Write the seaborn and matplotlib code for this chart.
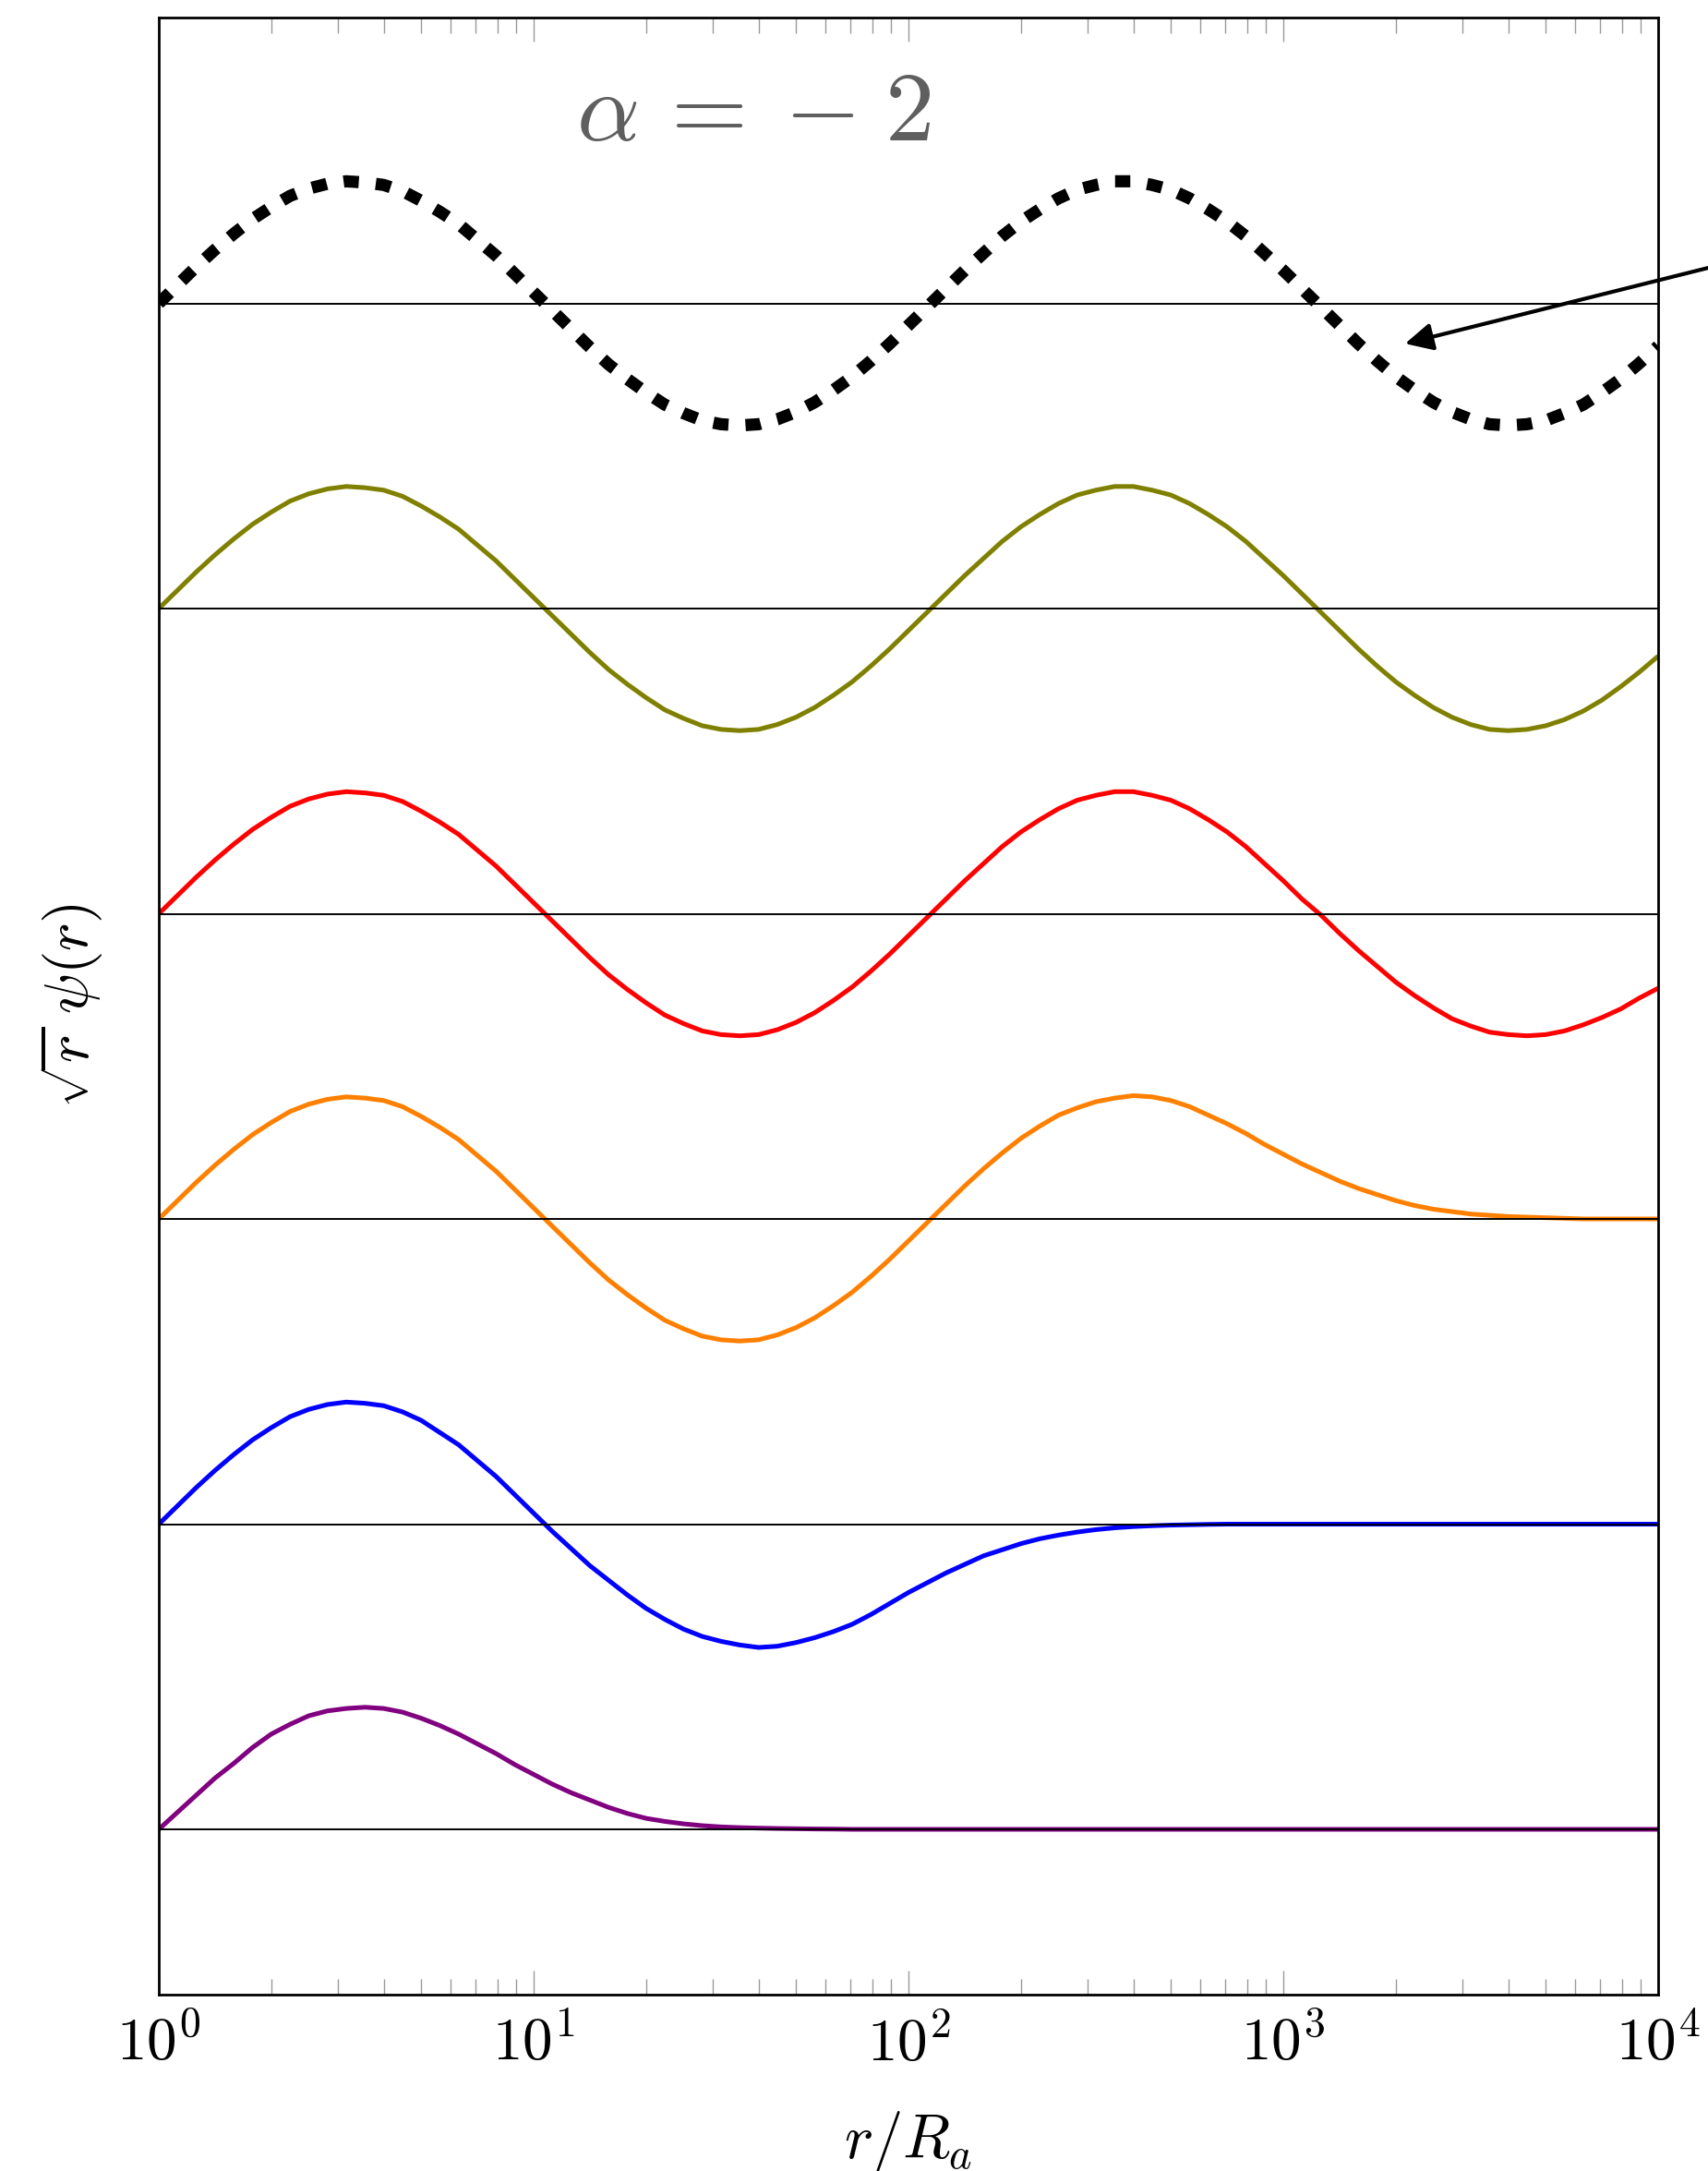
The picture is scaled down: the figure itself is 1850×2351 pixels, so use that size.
import numpy as np
import pandas as pd
import matplotlib
matplotlib.use("Agg")
import matplotlib.pyplot as plt
import seaborn as sns

# ---------------- data ----------------
log_r = [0.00, 0.05, 0.10, 0.15, 0.20, 0.25, 0.30, 0.35, 0.40, 0.45,
         0.50, 0.55, 0.60, 0.65, 0.70, 0.75, 0.80, 0.85, 0.90, 0.95,
         1.00, 1.05, 1.10, 1.15, 1.20, 1.25, 1.30, 1.35, 1.40, 1.45,
         1.50, 1.55, 1.60, 1.65, 1.70, 1.75, 1.80, 1.85, 1.90, 1.95,
         2.00, 2.05, 2.10, 2.15, 2.20, 2.25, 2.30, 2.35, 2.40, 2.45,
         2.50, 2.55, 2.60, 2.65, 2.70, 2.75, 2.80, 2.85, 2.90, 2.95,
         3.00, 3.05, 3.10, 3.15, 3.20, 3.25, 3.30, 3.35, 3.40, 3.45,
         3.50, 3.55, 3.60, 3.65, 3.70, 3.75, 3.80, 3.85, 3.90, 3.95,
         4.00]

psi_black = [0.00, 0.15, 0.30, 0.44, 0.57, 0.69, 0.79, 0.88, 0.94, 0.98,
             1.00, 0.99, 0.97, 0.92, 0.84, 0.75, 0.65, 0.52, 0.39, 0.24,
             0.09, -0.06, -0.21, -0.36, -0.50, -0.62, -0.73, -0.83, -0.90, -0.96,
             -0.99, -1.00, -0.99, -0.95, -0.89, -0.81, -0.71, -0.60, -0.47, -0.33,
             -0.18, -0.03, 0.12, 0.27, 0.41, 0.55, 0.67, 0.77, 0.86, 0.93,
             0.97, 1.00, 1.00, 0.97, 0.93, 0.86, 0.77, 0.67, 0.55, 0.41,
             0.27, 0.12, -0.03, -0.18, -0.33, -0.47, -0.60, -0.71, -0.81, -0.89,
             -0.95, -0.99, -1.00, -0.99, -0.96, -0.90, -0.83, -0.73, -0.62, -0.49,
             -0.35]

psi_olive = [0.00, 0.15, 0.30, 0.44, 0.57, 0.69, 0.79, 0.88, 0.94, 0.98,
             1.00, 0.99, 0.97, 0.92, 0.84, 0.75, 0.65, 0.52, 0.39, 0.24,
             0.09, -0.06, -0.21, -0.36, -0.50, -0.62, -0.73, -0.83, -0.90, -0.96,
             -0.99, -1.00, -0.99, -0.95, -0.89, -0.81, -0.71, -0.60, -0.47, -0.33,
             -0.18, -0.03, 0.12, 0.27, 0.41, 0.55, 0.67, 0.77, 0.86, 0.93,
             0.97, 1.00, 1.00, 0.97, 0.93, 0.86, 0.77, 0.67, 0.55, 0.41,
             0.27, 0.12, -0.03, -0.18, -0.33, -0.47, -0.60, -0.71, -0.81, -0.89,
             -0.95, -0.99, -1.00, -0.99, -0.96, -0.91, -0.84, -0.75, -0.64, -0.52,
             -0.39]

psi_red = [0.00, 0.15, 0.30, 0.44, 0.57, 0.69, 0.79, 0.88, 0.94, 0.98,
           1.00, 0.99, 0.97, 0.92, 0.84, 0.75, 0.65, 0.52, 0.39, 0.24,
           0.09, -0.06, -0.21, -0.36, -0.50, -0.62, -0.73, -0.83, -0.90, -0.96,
           -0.99, -1.00, -0.99, -0.95, -0.89, -0.81, -0.71, -0.60, -0.47, -0.33,
           -0.18, -0.03, 0.12, 0.27, 0.41, 0.55, 0.67, 0.77, 0.86, 0.93,
           0.97, 1.00, 1.00, 0.97, 0.93, 0.86, 0.77, 0.67, 0.55, 0.41,
           0.27, 0.12, -0.01, -0.16, -0.30, -0.43, -0.56, -0.67, -0.77, -0.86,
           -0.92, -0.97, -0.99, -1.00, -0.99, -0.96, -0.91, -0.85, -0.78, -0.69,
           -0.61]

psi_orange = [0.00, 0.15, 0.30, 0.44, 0.57, 0.69, 0.79, 0.88, 0.94, 0.98,
              1.00, 0.99, 0.97, 0.92, 0.84, 0.75, 0.65, 0.52, 0.39, 0.24,
              0.09, -0.06, -0.21, -0.36, -0.50, -0.62, -0.73, -0.83, -0.90, -0.96,
              -0.99, -1.00, -0.99, -0.95, -0.89, -0.81, -0.71, -0.60, -0.47, -0.33,
              -0.18, -0.03, 0.12, 0.27, 0.41, 0.54, 0.66, 0.76, 0.85, 0.91,
              0.96, 0.99, 1.01, 1.00, 0.97, 0.92, 0.85, 0.78, 0.70, 0.61,
              0.53, 0.45, 0.38, 0.31, 0.25, 0.20, 0.15, 0.11, 0.08, 0.06,
              0.04, 0.03, 0.02, 0.015, 0.01, 0.005, 0.00, 0.00, 0.00, 0.00,
              0.00]

psi_blue = [0.00, 0.15, 0.30, 0.44, 0.57, 0.69, 0.79, 0.88, 0.94, 0.98,
            1.00, 0.99, 0.97, 0.92, 0.85, 0.75, 0.65, 0.52, 0.39, 0.24,
            0.09, -0.06, -0.20, -0.34, -0.46, -0.58, -0.69, -0.78, -0.86, -0.92,
            -0.96, -0.99, -1.01, -1.00, -0.97, -0.93, -0.88, -0.82, -0.74, -0.65,
            -0.56, -0.48, -0.40, -0.33, -0.26, -0.21, -0.16, -0.12, -0.09, -0.065,
            -0.045, -0.03, -0.02, -0.013, -0.008, -0.005, -0.002, 0.00, 0.00, 0.00,
            0.00, 0.00, 0.00, 0.00, 0.00, 0.00, 0.00, 0.00, 0.00, 0.00,
            0.00, 0.00, 0.00, 0.00, 0.00, 0.00, 0.00, 0.00, 0.00, 0.00,
            0.00]

psi_purple = [0.00, 0.14, 0.28, 0.42, 0.54, 0.67, 0.78, 0.86, 0.93, 0.97,
              0.99, 1.00, 0.99, 0.96, 0.91, 0.85, 0.78, 0.70, 0.62, 0.53,
              0.45, 0.37, 0.30, 0.24, 0.18, 0.13, 0.09, 0.065, 0.045, 0.03,
              0.02, 0.014, 0.01, 0.007, 0.005, 0.003, 0.002, 0.00, 0.00, 0.00,
              0.00, 0.00, 0.00, 0.00, 0.00, 0.00, 0.00, 0.00, 0.00, 0.00,
              0.00, 0.00, 0.00, 0.00, 0.00, 0.00, 0.00, 0.00, 0.00, 0.00,
              0.00, 0.00, 0.00, 0.00, 0.00, 0.00, 0.00, 0.00, 0.00, 0.00,
              0.00, 0.00, 0.00, 0.00, 0.00, 0.00, 0.00, 0.00, 0.00, 0.00,
              0.00]

curve_names = ["black", "olive", "red", "orange", "blue", "purple"]
x_tick_values = [1, 10, 100, 1000, 10000]
x_tick_labels = [r"$10^{0}$", r"$10^{1}$", r"$10^{2}$", r"$10^{3}$", r"$10^{4}$"]
title_text = r"$\alpha\,=\:{-}\;2$"
x_label = r"$r/R_a$"
y_label = r"$\sqrt{r}\;\psi(r)$"

# ---------------- styling / layout ----------------
curve_colors = ["black", "#808000", "#ff0000", "#ff8000", "#0000ff", "#800080"]
curve_offsets = [5, 4, 3, 2, 1, 0]
amp_scale = 0.4

sns.set_theme(style="white")
plt.rcParams["mathtext.fontset"] = "cm"
plt.rcParams["font.family"] = ["DejaVu Sans"]

fig = plt.figure(figsize=(18.5, 23.51), dpi=100)
ax = fig.add_axes([0.09297, 0.08124, 0.87784, 0.91068])

series = [psi_black, psi_olive, psi_red, psi_orange, psi_blue, psi_purple]
r_vals = 10.0 ** np.array(log_r)

for name, vals, col, off in zip(curve_names, series, curve_colors, curve_offsets):
    df = pd.DataFrame({"r": r_vals, "y": off + amp_scale * np.array(vals)})
    if name == "black":
        sns.lineplot(data=df, x="r", y="y", ax=ax, color=col, linewidth=9.5,
                     linestyle=(0, (1.25, 1.4)), dash_capstyle="butt",
                     zorder=2, estimator=None, sort=False)
    else:
        sns.lineplot(data=df, x="r", y="y", ax=ax, color=col, linewidth=3.6,
                     zorder=2, estimator=None, sort=False,
                     solid_joinstyle="round", solid_capstyle="butt")

for off in curve_offsets:
    ax.axhline(off, color="black", linewidth=1.4, zorder=3)

ax.set_xscale("log")
ax.set_xlim(1, 1e4)
ax.set_ylim(-0.5416, 5.9365)

ax.set_xticks(x_tick_values)
ax.set_xticklabels(x_tick_labels)
ax.set_yticks([])

ax.tick_params(axis="x", which="both", direction="in", top=True, bottom=True,
               color="#9a9a9a", width=1.0)
ax.tick_params(axis="x", which="major", length=18.5, labelsize=47, pad=15,
               labelcolor="black")
ax.tick_params(axis="x", which="minor", length=12.5)
ax.tick_params(axis="y", left=False, right=False, labelleft=False)

for sp in ax.spines.values():
    sp.set_visible(True)
    sp.set_color("black")
    sp.set_linewidth(2.0)

ax.set_xlabel(x_label, fontsize=48, labelpad=28, color="black")
ax.set_ylabel(y_label, fontsize=47, labelpad=42, color="black")

ax.text(0.397, 0.9379, title_text, transform=ax.transAxes, ha="center",
        va="baseline", fontsize=77, color="#5f5f5f")

ax.annotate("", xy=(2113, 4.868), xytext=(18040, 5.154),
            arrowprops=dict(arrowstyle="-|>", color="black", lw=3,
                            mutation_scale=45, shrinkA=0, shrinkB=0),
            annotation_clip=False)

fig.savefig("out.png", dpi=100)
